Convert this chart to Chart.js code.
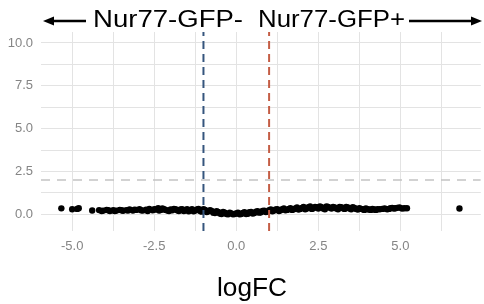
<!DOCTYPE html>
<html>
<head>
<meta charset="utf-8">
<script src="https://cdn.jsdelivr.net/npm/chart.js@4.4.0/dist/chart.umd.min.js"></script>
<style>
  html, body { margin: 0; padding: 0; background: #fff; }
  #wrap { width: 484px; height: 304px; position: relative; }
</style>
</head>
<body>
<div id="wrap"><canvas id="volcano"></canvas></div>
<script>
// logFC (x) and -log10(p) (y)
var logFC = [
  -5.33, -5.0, -4.85, -4.8, -4.39,
  -4.18, -4.05, -3.95, -3.85, -3.75, -3.65, -3.55, -3.45, -3.35, -3.25,
  -3.15, -3.05, -2.95, -2.85, -2.75, -2.65, -2.55, -2.45, -2.38, -2.3,
  -2.2, -2.1, -2.0, -1.9, -1.8, -1.7, -1.6, -1.5, -1.4, -1.3,
  -1.2, -1.1, -1.0, -0.9, -0.8, -0.7, -0.6, -0.5, -0.4, -0.3,
  -0.2, -0.1, 0.0, 0.1, 0.2, 0.3, 0.4, 0.5, 0.6, 0.7,
  0.8, 0.9, 1.0, 1.1, 1.2, 1.3, 1.4, 1.5, 1.6, 1.7,
  1.8, 1.9, 2.0, 2.1, 2.2, 2.3, 2.4, 2.5, 2.6, 2.7,
  2.8, 2.9, 3.0, 3.1, 3.2, 3.3, 3.4, 3.5, 3.6, 3.7,
  3.8, 3.9, 4.0, 4.1, 4.2, 4.3, 4.45, 4.6, 4.7, 4.8,
  4.9, 5.05, 5.2, 6.8,
  -4.1, -3.9, -3.7, -3.5, -3.3, -3.1, -2.9, -2.7, -2.5, -2.35,
  -2.25, -2.15, -2.05, -1.95, -1.85, -1.75, -1.65, -1.55, -1.45, -1.35,
  -1.25, -1.15, -1.05, -0.95, -0.85, -0.75, -0.65, -0.55, -0.45, -0.35,
  -0.25, -0.15, -0.05, 0.05, 0.15, 0.25, 0.35, 0.45, 0.55, 0.65,
  0.75, 0.85, 0.95, 1.05, 1.15, 1.25, 1.35, 1.45, 1.55, 1.65,
  1.75, 1.85, 1.95, 2.05, 2.15, 2.25, 2.35, 2.45, 2.55, 2.65,
  2.75, 2.85, 2.95, 3.05, 3.15, 3.25, 3.35, 3.45, 3.55, 3.65,
  3.75, 3.85, 3.95, 4.05, 4.15, 4.25, 4.37, 4.52, 4.65, 4.75,
  4.85, 4.97, 5.12
];
var negLog10P = [
  0.35, 0.3, 0.32, 0.36, 0.23,
  0.25, 0.22, 0.26, 0.2, 0.24, 0.22, 0.26, 0.21, 0.25, 0.28,
  0.22, 0.26, 0.3, 0.22, 0.27, 0.32, 0.24, 0.28, 0.36, 0.26,
  0.3, 0.22, 0.28, 0.32, 0.24, 0.28, 0.2, 0.3, 0.24, 0.18,
  0.28, 0.2, 0.3, 0.14, 0.24, 0.1, 0.18, 0.05, 0.14, 0.02,
  0.1, 0.0, 0.06, 0.0, 0.08, 0.02, 0.12, 0.05, 0.16, 0.1,
  0.2, 0.14, 0.24, 0.18, 0.28, 0.2, 0.3, 0.24, 0.32, 0.26,
  0.34, 0.28, 0.38, 0.3, 0.42, 0.32, 0.44, 0.34, 0.42, 0.3,
  0.44, 0.34, 0.4, 0.3, 0.42, 0.32, 0.4, 0.3, 0.38, 0.28,
  0.32, 0.26, 0.3, 0.26, 0.28, 0.3, 0.32, 0.3, 0.36, 0.34,
  0.38, 0.34, 0.36, 0.34,
  0.2, 0.24, 0.2, 0.24, 0.22, 0.27, 0.24, 0.2, 0.3, 0.22,
  0.34, 0.26, 0.2, 0.24, 0.3, 0.2, 0.3, 0.24, 0.18, 0.3,
  0.22, 0.32, 0.16, 0.26, 0.18, 0.2, 0.08, 0.14, 0.02, 0.1,
  0.0, 0.06, 0.02, 0.1, 0.02, 0.12, 0.04, 0.14, 0.08, 0.18,
  0.12, 0.22, 0.16, 0.28, 0.22, 0.3, 0.24, 0.34, 0.26, 0.36,
  0.3, 0.4, 0.32, 0.44, 0.34, 0.46, 0.36, 0.42, 0.46, 0.34,
  0.46, 0.38, 0.44, 0.34, 0.44, 0.36, 0.44, 0.34, 0.42, 0.32,
  0.36, 0.3, 0.34, 0.28, 0.32, 0.26, 0.3, 0.34, 0.32, 0.38,
  0.36, 0.4, 0.36
];

var xTicks = [-5, -3.75, -2.5, -1.25, 0, 1.25, 2.5, 3.75, 5, 6.25];
var yTicks = [0, 1.25, 2.5, 3.75, 5, 6.25, 7.5, 8.75, 10];
var xRange = [-5.95, 7.45];
var yRange = [-0.97, 10.64];
var fcCut = [-1, 1];
var pCut = 2;

var points = logFC.map(function (x, i) { return { x: x, y: negLog10P[i] }; });

function vLine(x, color) {
  return {
    type: 'line',
    data: [{ x: x, y: yRange[0] }, { x: x, y: yRange[1] }],
    borderColor: color,
    borderWidth: 2,
    borderDash: [8, 5],
    pointRadius: 0,
    order: 0
  };
}

// header arrows + text and x title, drawn on the canvas
var headerPlugin = {
  id: 'header',
  afterDraw: function (chart) {
    var ctx = chart.ctx;
    function fitText(txt, x0, x1, base, size) {
      ctx.save();
      ctx.font = size + 'px "Liberation Sans", Arial, sans-serif';
      ctx.fillStyle = '#000';
      ctx.textBaseline = 'alphabetic';
      var w = ctx.measureText(txt).width;
      ctx.translate(x0, base);
      ctx.scale((x1 - x0) / w, 1);
      ctx.fillText(txt, 0, 0);
      ctx.restore();
    }
    function arrow(from, to, y) {
      var dir = to > from ? 1 : -1;
      ctx.save();
      ctx.strokeStyle = '#000';
      ctx.fillStyle = '#000';
      ctx.lineWidth = 2.5;
      ctx.beginPath();
      ctx.moveTo(from, y);
      ctx.lineTo(to - dir * 8, y);
      ctx.stroke();
      ctx.beginPath();
      ctx.moveTo(to, y);
      ctx.lineTo(to - dir * 11, y - 4.5);
      ctx.lineTo(to - dir * 11, y + 4.5);
      ctx.closePath();
      ctx.fill();
      ctx.restore();
    }
    arrow(86, 43, 21);
    fitText('Nur77-GFP-', 93, 243, 27, 23);
    fitText('Nur77-GFP+', 258, 405, 27, 23);
    arrow(409, 482, 21);
    fitText('logFC', 217, 287, 296, 25);
  }
};

var ctx = document.getElementById('volcano').getContext('2d');
var chart = new Chart(ctx, {
  type: 'scatter',
  data: {
    datasets: [
      vLine(fcCut[0], '#35557d'),
      vLine(fcCut[1], '#c45d45'),
      {
        type: 'line',
        data: [{ x: xRange[0], y: pCut }, { x: xRange[1], y: pCut }],
        borderColor: '#c4c4c4',
        borderWidth: 1.5,
        borderDash: [9, 7],
        pointRadius: 0,
        order: 2
      },
      {
        data: points,
        backgroundColor: '#000',
        borderWidth: 0,
        pointRadius: 3.2,
        pointHoverRadius: 3.2,
        order: 1
      }
    ]
  },
  options: {
    responsive: true,
    maintainAspectRatio: false,
    animation: false,
    layout: { padding: { top: 32, left: 0, right: 0, bottom: 0 } },
    plugins: {
      legend: { display: false },
      tooltip: { enabled: false }
    },
    scales: {
      x: {
        type: 'linear',
        min: xRange[0],
        max: xRange[1],
        afterBuildTicks: function (s) { s.ticks = xTicks.map(function (v) { return { value: v }; }); },
        afterFit: function (s) { s.height = 73; },
        border: { display: false },
        grid: { color: '#e3e3e3', lineWidth: 1, drawTicks: false },
        ticks: {
          padding: 8,
          color: '#858585',
          font: { family: '"Liberation Sans", Arial, sans-serif', size: 13 },
          maxRotation: 0,
          autoSkip: false,
          callback: function (v) { return v % 2.5 === 0 ? v.toFixed(1) : ''; }
        }
      },
      y: {
        type: 'linear',
        min: yRange[0],
        max: yRange[1],
        afterBuildTicks: function (s) { s.ticks = yTicks.map(function (v) { return { value: v }; }); },
        afterFit: function (s) { s.width = 41; },
        border: { display: false },
        grid: { color: '#e3e3e3', lineWidth: 1, drawTicks: false },
        ticks: {
          padding: 8,
          color: '#858585',
          font: { family: '"Liberation Sans", Arial, sans-serif', size: 13 },
          autoSkip: false,
          callback: function (v) { return v % 2.5 === 0 ? v.toFixed(1) : ''; }
        }
      }
    }
  },
  plugins: [headerPlugin]
});
</script>
</body>
</html>
